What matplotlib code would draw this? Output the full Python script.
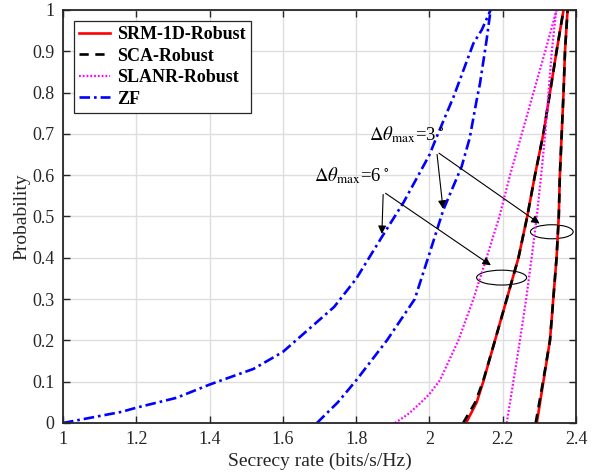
import matplotlib
matplotlib.use("Agg")
import matplotlib.pyplot as plt
from matplotlib.patches import Ellipse

plt.rcParams["font.family"] = ["Liberation Serif", "DejaVu Serif"]
plt.rcParams["mathtext.fontset"] = "stix"

# ===== DATA (CDF of secrecy rate) =====
# SRM-1D-Robust
srm_6_x = [2.100, 2.129, 2.147, 2.179, 2.211, 2.243, 2.267, 2.288, 2.311, 2.329, 2.347, 2.366]
srm_6_y = [0.0, 0.05, 0.1, 0.2, 0.3, 0.4, 0.5, 0.6, 0.7, 0.8, 0.9, 1.0]
srm_3_x = [2.293, 2.311, 2.329, 2.338, 2.347, 2.353, 2.356, 2.361, 2.366, 2.370, 2.377]
srm_3_y = [0.0, 0.1, 0.2, 0.3, 0.4, 0.5, 0.6, 0.7, 0.8, 0.9, 1.0]

# SCA-Robust
sca_6_x = [2.092, 2.125, 2.146, 2.179, 2.211, 2.243, 2.267, 2.288, 2.311, 2.329, 2.347, 2.366]
sca_6_y = [0.0, 0.05, 0.1, 0.2, 0.3, 0.4, 0.5, 0.6, 0.7, 0.8, 0.9, 1.0]
sca_3_x = [2.290, 2.310, 2.329, 2.338, 2.347, 2.353, 2.356, 2.361, 2.366, 2.370, 2.377]
sca_3_y = [0.0, 0.1, 0.2, 0.3, 0.4, 0.5, 0.6, 0.7, 0.8, 0.9, 1.0]

# SLANR-Robust
slanr_6_x = [1.906, 1.940, 1.974, 2.000, 2.029, 2.079, 2.120, 2.156, 2.191, 2.220, 2.252, 2.284, 2.316, 2.347]
slanr_6_y = [0.0, 0.02, 0.047, 0.07, 0.104, 0.2, 0.3, 0.4, 0.5, 0.6, 0.7, 0.8, 0.9, 1.0]
slanr_3_x = [2.211, 2.229, 2.247, 2.264, 2.279, 2.293, 2.305, 2.316, 2.325, 2.334, 2.346]
slanr_3_y = [0.0, 0.1, 0.2, 0.3, 0.4, 0.5, 0.6, 0.7, 0.8, 0.9, 1.0]

# ZF
zf_6_x = [1.0, 1.16, 1.2, 1.31, 1.4, 1.52, 1.6, 1.74, 1.8, 1.87, 1.93, 2.0, 2.02, 2.066, 2.12, 2.143, 2.167]
zf_6_y = [0.0, 0.027, 0.037, 0.061, 0.093, 0.131, 0.172, 0.281, 0.349, 0.45, 0.535, 0.649, 0.693, 0.79, 0.919, 0.952, 1.0]
zf_3_x = [1.693, 1.75, 1.8, 1.884, 1.96, 2.0, 2.038, 2.088, 2.11, 2.129, 2.138, 2.156, 2.167]
zf_3_y = [0.0, 0.05, 0.103, 0.2, 0.3, 0.41, 0.516, 0.621, 0.69, 0.782, 0.822, 0.927, 1.0]

x_ticks = [1, 1.2, 1.4, 1.6, 1.8, 2, 2.2, 2.4]
x_labels = ["1", "1.2", "1.4", "1.6", "1.8", "2", "2.2", "2.4"]
y_ticks = [0, 0.1, 0.2, 0.3, 0.4, 0.5, 0.6, 0.7, 0.8, 0.9, 1]
y_labels = ["0", "0.1", "0.2", "0.3", "0.4", "0.5", "0.6", "0.7", "0.8", "0.9", "1"]

# ===== PLOT =====
fig = plt.figure(figsize=(5.97, 4.75), dpi=100)
ax = fig.add_axes([0.1055, 0.1095, 0.8593, 0.8695])

lw = 1.9
dash = (0, (3.5, 2.5))
dot = (0, (0.8, 0.9))
dashdot = (0, (4, 1.5, 1, 1.5))

ax.plot(srm_6_x, srm_6_y, color="red", lw=lw, label="SRM-1D-Robust")
ax.plot(sca_6_x, sca_6_y, color="black", lw=lw, ls=dash, label="SCA-Robust")
ax.plot(slanr_6_x, slanr_6_y, color="magenta", lw=1.6, ls=dot, label="SLANR-Robust")
ax.plot(zf_6_x, zf_6_y, color="blue", lw=lw, ls=dashdot, label="ZF")

ax.plot(srm_3_x, srm_3_y, color="red", lw=lw)
ax.plot(sca_3_x, sca_3_y, color="black", lw=lw, ls=dash)
ax.plot(slanr_3_x, slanr_3_y, color="magenta", lw=1.6, ls=dot)
ax.plot(zf_3_x, zf_3_y, color="blue", lw=lw, ls=dashdot)

ax.set_xlim(1, 2.4)
ax.set_ylim(0, 1)
ax.set_xticks(x_ticks)
ax.set_xticklabels(x_labels)
ax.set_yticks(y_ticks)
ax.set_yticklabels(y_labels)
ax.grid(True, color="#dedede", lw=1.0)
ax.set_axisbelow(True)
ax.tick_params(direction="in", top=True, right=True, length=5, width=1.0,
               labelsize=13, colors="#262626", pad=6)
for s in ax.spines.values():
    s.set_linewidth(1.3)
    s.set_color("#262626")

ax.set_xlabel("Secrecy rate (bits/s/Hz)", fontsize=14, color="#262626", labelpad=3)
ax.set_ylabel("Probability", fontsize=14, color="#262626", labelpad=1)

leg = ax.legend(loc="upper left", prop={"weight": "bold", "size": 13},
                handlelength=1.7, handletextpad=0.4, labelspacing=0.25,
                borderpad=0.3, borderaxespad=0.6, fancybox=False,
                framealpha=1, edgecolor="#262626")
leg.get_frame().set_linewidth(0.9)

# annotations
arrow = dict(arrowstyle="-|>", color="black", lw=0.8, mutation_scale=12)
ax.text(1.835, 0.685, r"$\Delta\theta_{\rm max}$=3$^{\,\circ}$", fontsize=13.5)
ax.annotate("", xy=(2.038, 0.512), xytext=(2.02, 0.657), arrowprops=arrow)
ax.annotate("", xy=(2.307, 0.479), xytext=(2.02, 0.657), arrowprops=arrow)
ax.add_patch(Ellipse((2.334, 0.463), 0.1165, 0.034, fill=False, ec="black", lw=0.8))

ax.text(1.685, 0.585, r"$\Delta\theta_{\rm max}$=6$^{\,\circ}$", fontsize=13.5)
ax.annotate("", xy=(1.87, 0.451), xytext=(1.874, 0.56), arrowprops=arrow)
ax.annotate("", xy=(2.174, 0.378), xytext=(1.874, 0.56), arrowprops=arrow)
ax.add_patch(Ellipse((2.197, 0.352), 0.1365, 0.036, fill=False, ec="black", lw=0.8))

fig.savefig("out.png", dpi=100)
